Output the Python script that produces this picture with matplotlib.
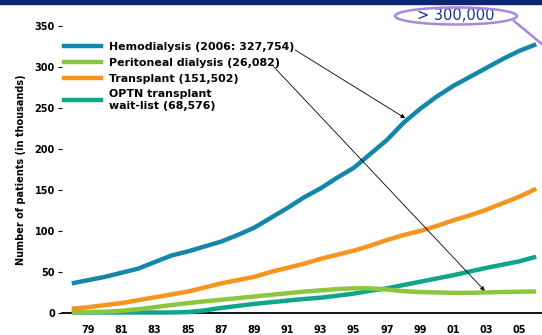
import matplotlib
matplotlib.use("Agg")
import matplotlib.pyplot as plt
import numpy as np
from matplotlib.patches import Ellipse, Rectangle
from matplotlib.lines import Line2D

YEARS = list(range(1978, 2007))

HEMODIALYSIS = [36, 40, 44, 49, 54, 62, 70, 75, 81, 87, 95, 104, 116, 128, 141,
                152, 165, 177, 194, 211, 232, 249, 264, 277, 288, 299, 310, 320, 327.8]
PERITONEAL = [0.5, 1, 1.5, 2.5, 4.5, 7, 9.5, 12, 14, 16, 18, 20, 22, 24, 26,
              27.5, 29, 30, 30, 28.5, 26.5, 25.5, 25, 24.5, 24.5, 25, 25.5, 25.8, 26.1]
TRANSPLANT = [5, 7, 9.5, 12, 15.5, 19, 22.5, 26, 31, 36, 40, 44, 50, 55, 60,
              66, 71, 76, 82, 89, 95, 100, 106, 113, 119, 126, 134, 142, 151.5]
WAITLIST = [0.5, 0.5, 0.5, 0.5, 0.5, 0.5, 0.5, 1, 3, 6, 8.5, 11, 13, 15, 17,
            18.5, 21, 23.5, 27, 30, 34, 38, 42, 46, 50.5, 55, 59, 63, 68.6]

SERIES_LABELS = [
    "Hemodialysis (2006: 327,754)",
    "Peritoneal dialysis (26,082)",
    "Transplant (151,502)",
    "OPTN transplant\nwait-list (68,576)",
]
SERIES_COLORS = ["#1287aa", "#8cc63f", "#f7941d", "#10a48b"]

X_TICKS = list(range(1979, 2006, 2))
X_TICK_LABELS = ["79", "81", "83", "85", "87", "89", "91", "93", "95", "97",
                 "99", "01", "03", "05"]
Y_TICKS = [0, 50, 100, 150, 200, 250, 300, 350]

CALLOUT_TEXT = "> 300,000"

plt.rcParams["font.family"] = ["DejaVu Sans"]

fig = plt.figure(figsize=(5.42, 3.35), dpi=100)
ax = fig.add_axes([0.114, 0.066, 0.886, 0.856])

years = np.array(YEARS)
all_series = [HEMODIALYSIS, PERITONEAL, TRANSPLANT, WAITLIST]
# wait-list goes down first so the other curves sit on top of it near zero
for idx in [3, 1, 2, 0]:
    ax.plot(years, all_series[idx], color=SERIES_COLORS[idx], lw=3.2,
            solid_capstyle="butt", clip_on=False, zorder=3)

ax.set_xlim(1977.4, 2006.35)
ax.set_ylim(0, 350)
ax.set_xticks(X_TICKS)
ax.set_xticklabels(X_TICK_LABELS)
ax.set_yticks(Y_TICKS)
ax.tick_params(axis="x", length=0, pad=9, labelsize=7)
ax.tick_params(axis="y", length=3, width=0.8, pad=2, labelsize=7)
for lbl in ax.get_xticklabels() + ax.get_yticklabels():
    lbl.set_fontweight("bold")

for side in ["top", "right", "left"]:
    ax.spines[side].set_visible(False)
ax.spines["bottom"].set_linewidth(1.3)
ax.spines["bottom"].set_zorder(2)

ax.set_ylabel("Number of patients (in thousands)", fontsize=7,
              fontweight="bold", labelpad=6)

# legend in the fixed order hemodialysis, peritoneal, transplant, wait-list
handles = [Line2D([], [], color=c, lw=3.2) for c in SERIES_COLORS]
leg = ax.legend(handles, SERIES_LABELS, loc="upper left",
                bbox_to_anchor=(-0.005, 0.96), frameon=False,
                prop={"size": 7.9, "weight": "bold"}, handlelength=3.4,
                handletextpad=0.7, labelspacing=0.53, borderaxespad=0)

# pointer arrows start at the right end of the legend text
fig.canvas.draw()
texts = leg.get_texts()
hemo_box = texts[0].get_window_extent()
pd_box = texts[1].get_window_extent()

hemo_x = 1998.1
ax.annotate("", xy=(hemo_x, np.interp(hemo_x, years, HEMODIALYSIS) + 4),
            xycoords="data",
            xytext=(hemo_box.x1 + 1, hemo_box.y0 + 2), textcoords="figure pixels",
            arrowprops=dict(arrowstyle="-|>", color="black", lw=0.6,
                            mutation_scale=6, shrinkA=0, shrinkB=0))
pd_x = 2002.9
ax.annotate("", xy=(pd_x, np.interp(pd_x, years, PERITONEAL) + 2),
            xycoords="data",
            xytext=(pd_box.x1 - 6, pd_box.y0 + 1), textcoords="figure pixels",
            arrowprops=dict(arrowstyle="-|>", color="black", lw=0.6,
                            mutation_scale=6, shrinkA=0, shrinkB=0))

# navy band along the top edge
fig.patches.append(Rectangle((0, 1 - 4 / 335), 1, 4 / 335,
                             transform=fig.transFigure, color="#0d2672",
                             zorder=5))

# highlighted callout for the hemodialysis total
fig.patches.append(Ellipse((456 / 542, 1 - 16 / 335), 122 / 542, 17 / 335,
                           transform=fig.transFigure, fill=False,
                           edgecolor="#a887dc", lw=1.8, zorder=5))
fig.lines.append(Line2D([514 / 542, 542 / 542], [1 - 21 / 335, 1 - 44 / 335],
                        transform=fig.transFigure, color="#a887dc", lw=1.8,
                        zorder=5))
fig.text(456 / 542, 1 - 16 / 335, CALLOUT_TEXT, ha="center", va="center",
         fontsize=10.5, fontweight="medium", color="#1b3391")

fig.savefig("out.png", dpi=100)
